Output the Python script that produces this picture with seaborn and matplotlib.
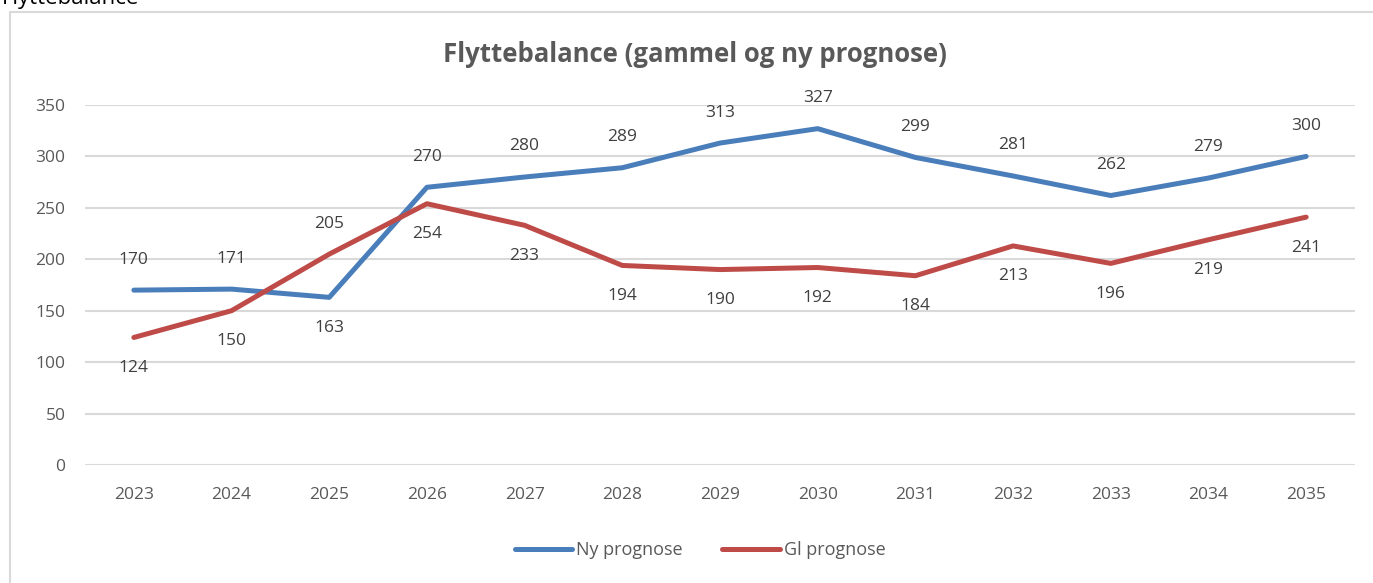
import pandas as pd
import matplotlib.pyplot as plt
import seaborn as sns
from matplotlib.patches import Rectangle

years = [2023, 2024, 2025, 2026, 2027, 2028, 2029, 2030, 2031, 2032, 2033, 2034, 2035]
ny_prognose = [170, 171, 163, 270, 280, 289, 313, 327, 299, 281, 262, 279, 300]
gl_prognose = [124, 150, 205, 254, 233, 194, 190, 192, 184, 213, 196, 219, 241]
# label placement: 1 = above point, -1 = below
ny_side = [1, 1, -1, 1, 1, 1, 1, 1, 1, 1, 1, 1, 1]
gl_side = [-1, -1, 1, -1, -1, -1, -1, -1, -1, -1, -1, -1, -1]

series_names = ["Ny prognose", "Gl prognose"]
colors = {"Ny prognose": "#4A7EBB", "Gl prognose": "#BE4B48"}
grey = "#595959"

df = pd.DataFrame({
    "year": years * 2,
    "value": ny_prognose + gl_prognose,
    "series": [series_names[0]] * len(years) + [series_names[1]] * len(years),
})

sns.set_theme(style="white")
plt.rcParams["font.family"] = ["Open Sans", "DejaVu Sans"]

fig = plt.figure(figsize=(13.73, 5.83), dpi=100)
ax = fig.add_axes([85 / 1373, 1 - 465 / 583, 1270 / 1373, 360 / 583])

sns.lineplot(data=df, x="year", y="value", hue="series", palette=colors,
             linewidth=3.6, ax=ax, legend=False, solid_capstyle="round")

ax.set_xlim(years[0] - 0.5, years[-1] + 0.5)
ax.set_ylim(0, 350)
ax.set_yticks(range(0, 351, 50))
ax.set_xticks(years)
ax.set_xticklabels([str(y) for y in years])
ax.grid(axis="y", color="#D9D9D9", linewidth=1.5)
ax.set_axisbelow(True)
for s in ax.spines.values():
    s.set_visible(False)
ax.tick_params(axis="both", length=0, colors=grey, labelsize=12.5)
ax.tick_params(axis="x", pad=16)
ax.tick_params(axis="y", pad=14)
ax.set_xlabel("")
ax.set_ylabel("")

for vals, sides in [(ny_prognose, ny_side), (gl_prognose, gl_side)]:
    for x, v, s in zip(years, vals, sides):
        ax.annotate(str(v), (x, v), xytext=(0, 22 * s), textcoords="offset points",
                    ha="center", va="center", fontsize=12.5, color="#404040")

fig.text(695 / 1373, 1 - 55 / 583, "Flyttebalance (gammel og ny prognose)",
         ha="center", va="center", fontsize=18.5, fontweight="bold", color=grey)

# legend
handles = [plt.Line2D([], [], color=colors[n], linewidth=3.6, solid_capstyle="round")
           for n in series_names]
fig.legend(handles, series_names, loc="center", bbox_to_anchor=(700 / 1373, 1 - 550 / 583),
           ncol=2, frameon=False, fontsize=13, labelcolor=grey, handlelength=3.2,
           handletextpad=0.2, columnspacing=2.2)

# chart frame and cut-off heading above it
fig.patches.append(Rectangle((10 / 1373, -0.05), 1.1, 1 - 12 / 583 + 0.05,
                             transform=fig.transFigure, fill=False,
                             edgecolor="#D9D9D9", linewidth=1.5))
fig.text(2 / 1373, 1 - 4 / 583, "Flyttebalance", ha="left", va="baseline",
         fontsize=16, color="black")

fig.savefig("out.png", dpi=100)
